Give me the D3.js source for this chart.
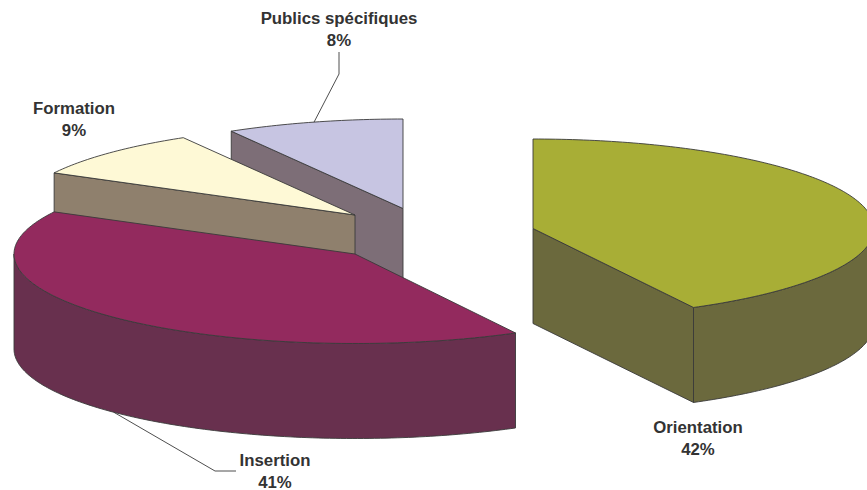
<!DOCTYPE html>
<html>
<head>
<meta charset="utf-8">
<script src="https://cdn.jsdelivr.net/npm/d3@7"></script>
<style>
    html, body { margin: 0; padding: 0; background: #fff; }
    svg { display: block; }
    text { font-family: "Liberation Sans", Arial, sans-serif; font-weight: bold; font-size: 16.8px; fill: #333; text-anchor: middle; }
</style>
</head>
<body>
<div class="chart"></div>
<script>
// data (labels show them rounded)
const categories = ["Orientation", "Insertion", "Formation", "Publics spécifiques"];
const shares = [42.2, 40.6, 8.8, 8.4];
const topColours = ["#a8ae36", "#932a5e", "#fef9d6", "#c7c5e2"];
const wallColours = ["#6b693d", "#68304e", "#8f806d", "#7d6e77"];

// layout: where each exploded slice has its apex, and where its label goes
const width = 867;
const height = 490;
const rx = 341;
const ry = 89.5;
const depth = 95;
const apexes = [[533, 228.5], [355, 254], [355, 215], [403, 208.5]];
const labelPos = [[698, 433], [275, 466], [74, 114], [339, 24]];
const lineHeight = 21.5;
// only two labels have a leader line: elbow points, from the pie to the text
const leaders = { 1: [[215, 471], [236, 471]], 3: [[339, 74], [339, 52]] };

const svg = d3.select(".chart").append("svg")
    .attr("width", width)
    .attr("height", height);

const slices = d3.pie().sort(null).value(d => d)(shares);

// point on the rim of slice i, angle in radians clockwise from the top
function rim(i, a, drop = 0) {
    return [apexes[i][0] + rx * Math.sin(a), apexes[i][1] - ry * Math.cos(a) + drop];
}

function arcPoints(i, a0, a1, drop = 0) {
    const n = Math.max(2, Math.ceil((a1 - a0) * 60));
    return d3.range(n + 1).map(k => rim(i, a0 + (a1 - a0) * k / n, drop));
}

const line = d3.line();

function face(g, points, fill) {
    g.append("path")
        .attr("d", line(points) + "Z")
        .attr("fill", fill)
        .attr("stroke", "#3a3a3a")
        .attr("stroke-width", 0.9)
        .attr("stroke-linejoin", "round");
}

// back to front, so the nearer slices cover the walls behind them
[3, 2, 1, 0].forEach(i => {
    const s = slices[i];
    const g = svg.append("g").attr("class", "slice");
    const apex = apexes[i];
    const apexLow = [apex[0], apex[1] + depth];

    // flat walls along the cut edges, only when they face the viewer
    if (Math.sin(s.startAngle) < -1e-6) {
        const p = rim(i, s.startAngle);
        face(g, [apex, p, [p[0], p[1] + depth], apexLow], wallColours[i]);
    }
    if (Math.sin(s.endAngle) > 1e-6) {
        const p = rim(i, s.endAngle);
        face(g, [apex, p, [p[0], p[1] + depth], apexLow], wallColours[i]);
    }

    // round outer wall, front half of the ellipse only
    const a0 = Math.max(s.startAngle, Math.PI / 2);
    const a1 = Math.min(s.endAngle, 3 * Math.PI / 2);
    if (a1 > a0) {
        face(g, arcPoints(i, a0, a1).concat(arcPoints(i, a0, a1, depth).reverse()), wallColours[i]);
    }

    // top of the slice
    face(g, [apex].concat(arcPoints(i, s.startAngle, s.endAngle)), topColours[i]);
});

// leader lines start from the middle of the slice's rim
Object.keys(leaders).forEach(key => {
    const i = +key;
    const mid = (slices[i].startAngle + slices[i].endAngle) / 2;
    const front = Math.cos(mid) < 0;
    svg.append("path")
        .attr("d", line([rim(i, mid, front ? depth : 0)].concat(leaders[key])))
        .attr("fill", "none")
        .attr("stroke", "#3a3a3a")
        .attr("stroke-width", 0.9);
});

// labels
categories.forEach((name, i) => {
    const t = svg.append("text")
        .attr("x", labelPos[i][0])
        .attr("y", labelPos[i][1]);
    t.append("tspan").text(name);
    t.append("tspan")
        .attr("x", labelPos[i][0])
        .attr("dy", lineHeight)
        .text(Math.round(shares[i]) + "%");
});
</script>
</body>
</html>
